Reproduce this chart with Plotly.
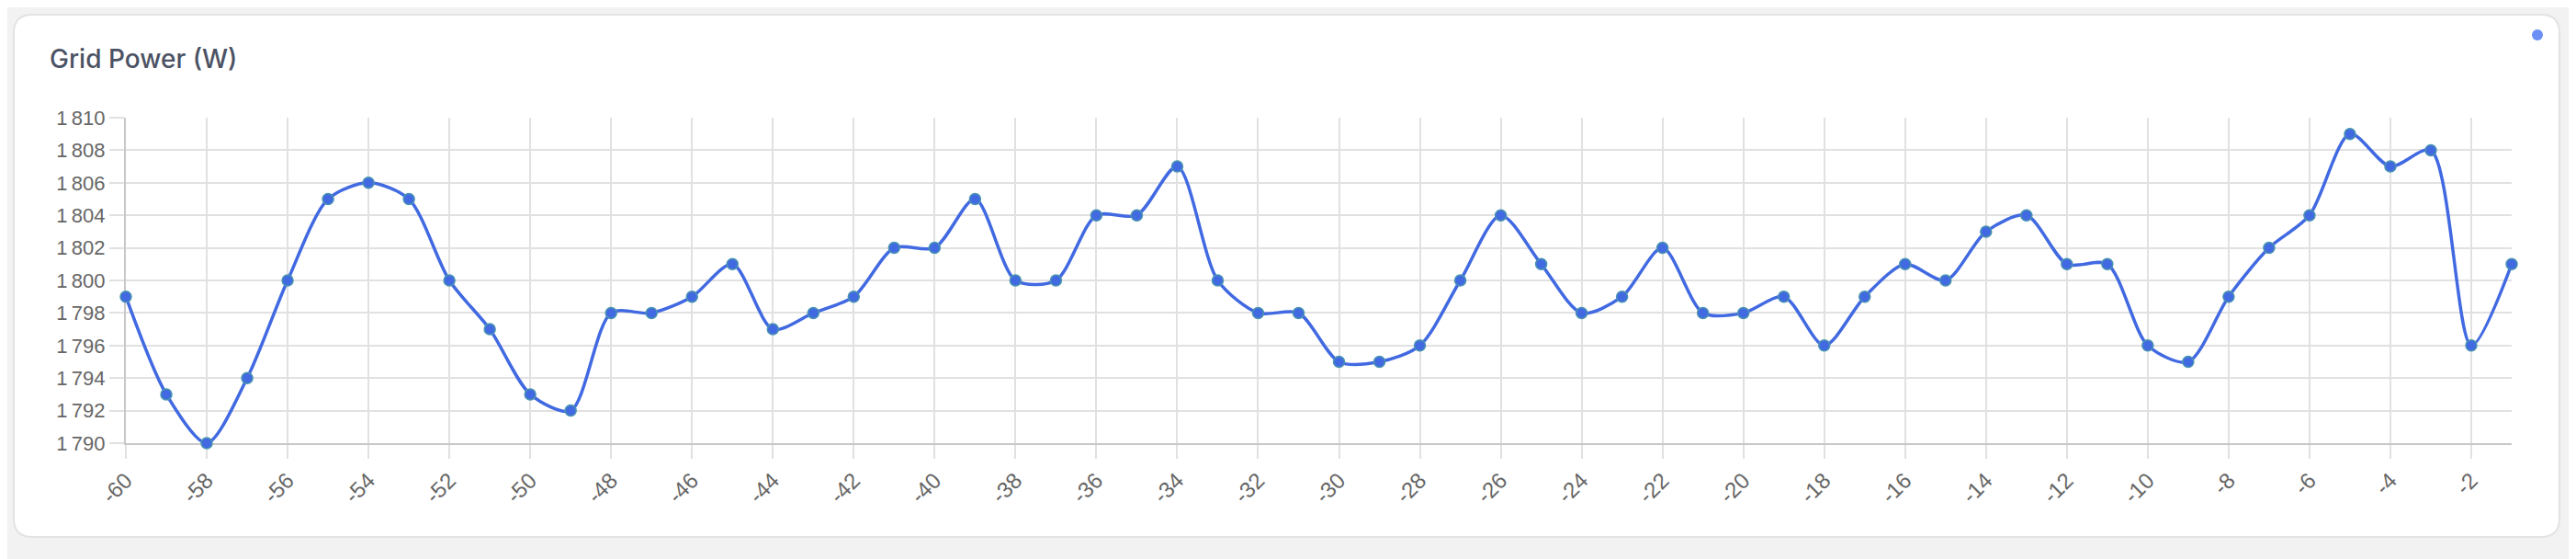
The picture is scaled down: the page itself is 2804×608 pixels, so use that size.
import plotly.graph_objects as go

# seconds ago (x) and grid power readings (W)
seconds = list(range(-60, 0))
power = [
    1799, 1793, 1790, 1794, 1800, 1805, 1806, 1805, 1800, 1797,
    1793, 1792, 1798, 1798, 1799, 1801, 1797, 1798, 1799, 1802,
    1802, 1805, 1800, 1800, 1804, 1804, 1807, 1800, 1798, 1798,
    1795, 1795, 1796, 1800, 1804, 1801, 1798, 1799, 1802, 1798,
    1798, 1799, 1796, 1799, 1801, 1800, 1803, 1804, 1801, 1801,
    1796, 1795, 1799, 1802, 1804, 1809, 1807, 1808, 1796, 1801,
]
y_ticks = list(range(1790, 1811, 2))
y_tick_text = [f"{v:,}".replace(",", "\u202f") for v in y_ticks]
x_ticks = list(range(-60, 0, 2))
x_tick_text = [str(v) for v in x_ticks]

# page body has an 8px margin, so the figure is drawn 8px in
OFF = 8
W, H = 2804 - OFF, 608 - OFF
L, R, T, B = 137 - OFF, 70, 128 - OFF, 126
PW, PH = W - L - R, H - T - B


# page pixel -> paper coords
def px(x):
    return (x - OFF - L) / PW

def py(y):
    return (H - B - (y - OFF)) / PH


def rounded_rect(x0, y0, x1, y1, r):
    rx, ry = r / PW, r / PH
    a, b, c, d = px(x0), py(y1), px(x1), py(y0)  # left, bottom, right, top
    return (f"M {a+rx},{d} L {c-rx},{d} Q {c},{d} {c},{d-ry} "
            f"L {c},{b+ry} Q {c},{b} {c-rx},{b} "
            f"L {a+rx},{b} Q {a},{b} {a},{b+ry} "
            f"L {a},{d-ry} Q {a},{d} {a+rx},{d} Z")


fig = go.Figure()
fig.add_trace(go.Scatter(
    x=seconds,
    y=power,
    mode='lines+markers',
    line=dict(color='#4169e1', width=3.5, shape='spline', smoothing=0.8),
    marker=dict(size=12, color='#4169e1', line=dict(color='#4a94b0', width=1.5)),
    cliponaxis=False,
    showlegend=False,
))

fig.update_layout(
    width=W,
    height=H,
    margin=dict(l=L, r=R, t=T, b=B),
    paper_bgcolor='#f2f2f2',
    plot_bgcolor='rgba(0,0,0,0)',
    font=dict(family="Liberation Sans, Arial, sans-serif", size=22, color="#666"),
    title=dict(
        text="Grid Power (W)",
        xref='container', yref='container',
        x=(54 - OFF) / W, y=1 - (64 - OFF) / H,
        xanchor='left', yanchor='middle',
        font=dict(family="Inter, Liberation Sans, sans-serif", size=28, color="#4b5263", weight=500),
    ),
    xaxis=dict(
        range=[-60, -1],
        tickvals=x_ticks,
        ticktext=x_tick_text,
        tickangle=-45,
        tickfont=dict(size=24),
        showgrid=True,
        gridcolor='#e1e1e1',
        gridwidth=1.5,
        zeroline=False,
        showline=True,
        linecolor='#c8c8c8',
        linewidth=2,
        ticks='outside',
        ticklen=15,
        tickcolor='#e1e1e1',
        tickwidth=1.5,
        layer='below traces',
    ),
    yaxis=dict(
        range=[1790, 1810],
        tickvals=y_ticks,
        ticktext=y_tick_text,
        showgrid=True,
        gridcolor='#e1e1e1',
        gridwidth=1.5,
        zeroline=False,
        showline=True,
        linecolor='#c8c8c8',
        linewidth=2,
        ticks='outside',
        ticklen=16,
        tickcolor='#e1e1e1',
        tickwidth=1.5,
        layer='below traces',
    ),
    shapes=[
        dict(type='path', xref='paper', yref='paper', layer='below',
             path=rounded_rect(15, 16, 2786, 584, 20),
             fillcolor='white', line=dict(color='#e3e3e3', width=2)),
        dict(type='circle', xref='paper', yref='paper',
             xsizemode='pixel', ysizemode='pixel',
             xanchor=px(2762), yanchor=py(38),
             x0=-6, x1=6, y0=-6, y1=6,
             fillcolor='#6b8ff5', line=dict(width=0)),
    ],
)

fig.write_html("out.html")
